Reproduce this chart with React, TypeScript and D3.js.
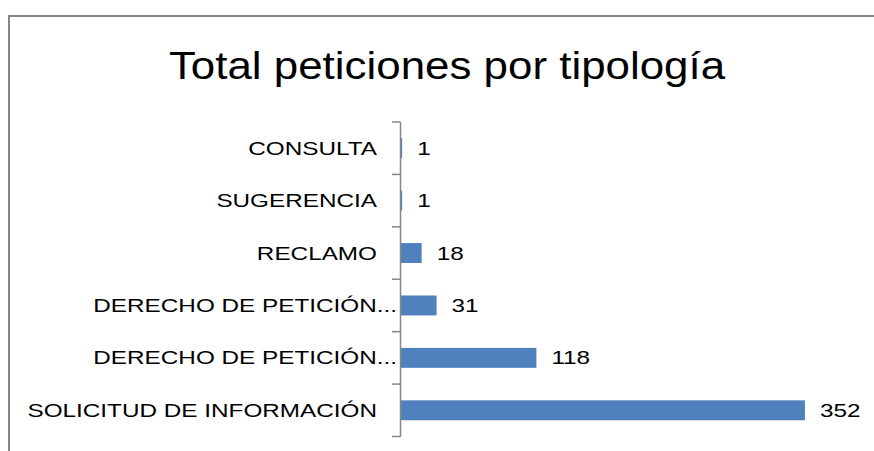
import React, { useRef, useEffect } from 'react';
import * as d3 from 'd3';

const categories = [
  'CONSULTA',
  'SUGERENCIA',
  'RECLAMO',
  'DERECHO DE PETICIÓN...',
  'DERECHO DE PETICIÓN...',
  'SOLICITUD DE INFORMACIÓN',
];
const values = [1, 1, 18, 31, 118, 352];
const xMax = 400;
const title = 'Total peticiones por tipología';

const App = () => {
  const svgRef = useRef<SVGSVGElement | null>(null);

  useEffect(() => {
    const w = 874;
    const h = 451;
    const font = "'Liberation Sans', Arial, sans-serif";
    const stretch = 1.35;

    const svg = d3.select(svgRef.current)
      .attr('width', w)
      .attr('height', h)
      .style('background', '#fff');
    svg.selectAll('*').remove();

    // chart frame (only top and left edges are visible)
    svg.append('line').attr('x1', 8).attr('x2', w).attr('y1', 16).attr('y2', 16)
      .attr('stroke', '#868686').attr('stroke-width', 2);
    svg.append('line').attr('x1', 9).attr('x2', 9).attr('y1', 15).attr('y2', h)
      .attr('stroke', '#868686').attr('stroke-width', 2);

    svg.append('text')
      .attr('transform', `translate(447,79) scale(1.155,1)`)
      .attr('text-anchor', 'middle')
      .style('font-family', font)
      .style('font-size', '38px')
      .attr('fill', '#000')
      .text(title);

    const idx = categories.map((_, i) => i);
    const y = d3.scaleBand<number>().domain(idx).range([122, 436.5]).padding(0);
    const x = d3.scaleLinear().domain([0, xMax]).range([401, 860]);
    const barH = y.bandwidth() * 0.38;

    // bars
    svg.selectAll('.bar').data(values).join('rect')
      .attr('class', 'bar')
      .attr('x', x(0))
      .attr('y', (d, i) => (y(i) as number) + (y.bandwidth() - barH) / 2)
      .attr('width', d => x(d) - x(0))
      .attr('height', barH)
      .attr('fill', '#4f81bd');

    // category axis
    const axisX = 400.5;
    svg.append('line').attr('x1', axisX).attr('x2', axisX)
      .attr('y1', y.range()[0]).attr('y2', y.range()[1])
      .attr('stroke', '#868686').attr('stroke-width', 1.5);
    const bounds = idx.map(i => y(i) as number).concat([y.range()[1]]);
    svg.selectAll('.tick').data(bounds).join('line')
      .attr('class', 'tick')
      .attr('x1', 392).attr('x2', axisX)
      .attr('y1', d => d).attr('y2', d => d)
      .attr('stroke', '#868686').attr('stroke-width', 1.5);

    svg.selectAll('.cat').data(categories).join('text')
      .attr('class', 'cat')
      .attr('transform', (d, i) => {
        const cy = (y(i) as number) + y.bandwidth() / 2 + 6.5;
        const ex = d.endsWith('...') ? 397 : 377;
        return `translate(${ex},${cy}) scale(${stretch},1)`;
      })
      .attr('text-anchor', 'end')
      .style('font-family', font)
      .style('font-size', '18px')
      .attr('fill', '#000')
      .text(d => d);

    // data labels
    svg.selectAll('.val').data(values).join('text')
      .attr('class', 'val')
      .attr('transform', (d, i) => {
        const cy = (y(i) as number) + y.bandwidth() / 2 + 6.5;
        return `translate(${x(d) + 15},${cy}) scale(${stretch},1)`;
      })
      .style('font-family', font)
      .style('font-size', '18px')
      .attr('fill', '#000')
      .text(d => d);
  }, []);

  return (
    <div>
      <svg ref={svgRef} style={{ position: 'absolute', left: 0, top: 0 }}></svg>
    </div>
  );
};

export default App;
